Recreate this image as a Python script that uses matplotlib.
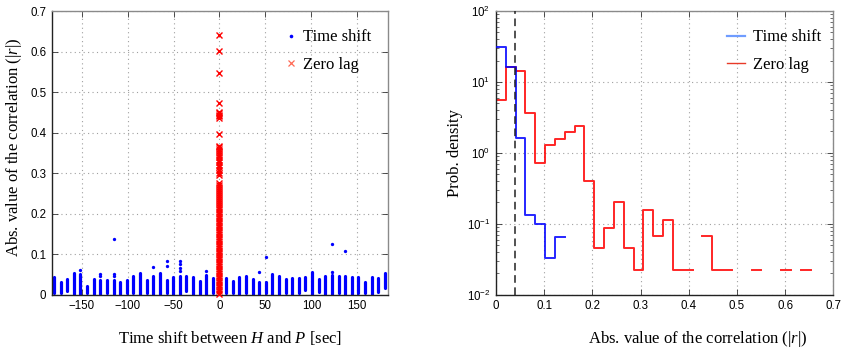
import numpy as np
import matplotlib
matplotlib.use("Agg")
import matplotlib.pyplot as plt
from matplotlib.lines import Line2D
from matplotlib.ticker import LogLocator, NullFormatter

plt.rcParams['mathtext.fontset'] = 'custom'
plt.rcParams['mathtext.rm'] = 'Liberation Serif'
plt.rcParams['mathtext.it'] = 'Liberation Serif:italic'
plt.rcParams['mathtext.bf'] = 'Liberation Serif:bold'
plt.rcParams['font.family'] = ['Liberation Sans', 'DejaVu Sans']

# ---------------- data: left panel ----------------
# time shifts (sec) of the shifted columns
shift_lags = [-180, -172.8, -165.6, -158.4, -151.2, -144, -136.8, -129.6, -122.4, -115.2,
              -108, -100.8, -93.6, -86.4, -79.2, -72, -64.8, -57.6, -50.4, -43.2,
              -36, -28.8, -21.6, -14.4, -7.2,
              7.2, 14.4, 21.6, 28.8, 36, 43.2, 50.4, 57.6, 64.8, 72,
              79.2, 86.4, 93.6, 100.8, 108, 115.2, 122.4, 129.6, 136.8, 144,
              151.2, 158.4, 165.6, 172.8, 180]
shift_low = [0.004, 0.005, 0.008, 0.002, 0.002, 0.003, 0.002, 0.002, 0.004, 0.002,
             0.002, 0.003, 0.003, 0.002, 0.004, 0.002, 0.002, 0.003, 0.002, 0.001,
             0.008, 0.002, 0.002, 0.002, 0.003,
             0.003, 0.004, 0.002, 0.003, 0.002, 0.002, 0.003, 0.002, 0.002, 0.004,
             0.002, 0.003, 0.012, 0.002, 0.006, 0.002, 0.002, 0.003, 0.002, 0.002,
             0.004, 0.003, 0.002, 0.006, 0.016]
shift_high = [0.043, 0.032, 0.039, 0.053, 0.050, 0.021, 0.038, 0.036, 0.036, 0.036,
              0.032, 0.036, 0.045, 0.053, 0.036, 0.045, 0.053, 0.036, 0.043, 0.045,
              0.045, 0.043, 0.035, 0.049, 0.040,
              0.040, 0.034, 0.043, 0.046, 0.038, 0.031, 0.031, 0.051, 0.046, 0.038,
              0.040, 0.040, 0.043, 0.055, 0.038, 0.046, 0.049, 0.047, 0.047, 0.043,
              0.043, 0.031, 0.043, 0.040, 0.053]
# isolated time-shift points above the columns
extra_lags = [-151.2, -129.6, -129.6, -115.2, -115.2, -115.2, -72, -57.6, -57.6,
              -43.2, -43.2, -43.2, -43.2, -14.4, 43.2, 50.4, 122.4, 122.4, 136.8]
extra_vals = [0.060, 0.045, 0.051, 0.045, 0.050, 0.138, 0.068, 0.070, 0.083,
              0.059, 0.065, 0.075, 0.084, 0.059, 0.055, 0.092, 0.057, 0.124, 0.107]
# zero-lag correlations
zero_vals = [0.002, 0.008, 0.013, 0.019, 0.025, 0.031, 0.036, 0.042, 0.047, 0.053,
             0.058, 0.064, 0.070, 0.075, 0.081, 0.087, 0.092, 0.098, 0.104, 0.109,
             0.115, 0.121, 0.126, 0.132, 0.138, 0.143, 0.149, 0.155, 0.160, 0.166,
             0.172, 0.177, 0.183, 0.189, 0.194, 0.200, 0.205, 0.211, 0.216, 0.221,
             0.226, 0.231, 0.236, 0.241, 0.246, 0.251, 0.256, 0.261, 0.266, 0.271,
             0.275, 0.296, 0.300, 0.307, 0.315, 0.321, 0.327, 0.333, 0.340, 0.345,
             0.350, 0.355, 0.360, 0.364, 0.368, 0.396, 0.436, 0.440, 0.444, 0.448,
             0.452, 0.472, 0.548, 0.602, 0.642]

left_xticks = [-150, -100, -50, 0, 50, 100, 150]
left_yticks = [0, 0.1, 0.2, 0.3, 0.4, 0.5, 0.6, 0.7]

# ---------------- data: right panel ----------------
n_bins = 32
hist_max = 0.6528
red_density = [5.6, 16.2, 14.4, 3.6, 0.73, 1.28, 1.55, 1.95, 2.39, 0.40,
               0.045, 0.088, 0.20, 0.045, 0.0223, 0.156, 0.067, 0.112, 0.0223, 0.0223,
               np.nan, 0.067, 0.0223, 0.0223, np.nan, np.nan, 0.0223, np.nan, np.nan, 0.0223,
               np.nan, 0.0223]
blue_density = [31.0, 16.4, 1.6, 0.131, 0.098, 0.0325, 0.0658]
threshold = 0.040
right_xticks = [0, 0.1, 0.2, 0.3, 0.4, 0.5, 0.6, 0.7]

# ---------------- figure ----------------
W, H = 858, 360
fig = plt.figure(figsize=(W / 100, H / 100), dpi=100)

def px_axes(x0, y0, x1, y1):
    return fig.add_axes([x0 / W, 1 - y1 / H, (x1 - x0) / W, (y1 - y0) / H])

ax1 = px_axes(52, 11, 388.3, 294.7)
ax2 = px_axes(496, 11, 833.3, 294.7)

BLUE = '#0000ff'
RED = '#ff0000'
GRID = dict(color='#a0a0a0', linestyle=(0, (1, 3)), linewidth=0.8)
serif = ['Liberation Serif', 'DejaVu Serif']

for ax in (ax1, ax2):
    ax.tick_params(direction='in', top=True, right=True, labelsize=8.3, length=4,
                   width=0.6, color='#333333', pad=4)
    ax.tick_params(which='minor', direction='in', top=True, right=True, length=2.2,
                   width=0.5, color='#333333')
    ax.spines['left'].set_color('#222222')
    ax.spines['bottom'].set_color('#222222')
    ax.spines['top'].set_color('#8a8a8a')
    ax.spines['right'].set_color('#8a8a8a')
    for s in ax.spines.values():
        s.set_linewidth(1.0)
    ax.set_axisbelow(True)

# left panel
ax1.vlines(shift_lags, shift_low, shift_high, colors=BLUE, linewidth=2.3,
           capstyle='round', zorder=2)
ax1.plot(extra_lags, extra_vals, linestyle='none', marker='o', ms=2.4, mew=0,
         color=BLUE, zorder=2)
ax1.plot(np.zeros(len(zero_vals)), zero_vals, linestyle='none', marker='x', ms=5,
         mew=1.0, color=RED, zorder=3, clip_on=False)
ax1.set_xlim(-182.2, 183.7)
ax1.set_ylim(0, 0.7)
ax1.set_xticks(left_xticks)
ax1.set_yticks(left_yticks)
ax1.set_yticklabels(['0' if v == 0 else f'{v:.1f}' for v in left_yticks])
ax1.set_xticklabels([f'\u2212{abs(v)}' if v < 0 else f'{v}' for v in left_xticks])
ax1.grid(True, **GRID)
ax1.set_xlabel('Time shift between $H$ and $P$ [sec]', family=serif, fontsize=12)
ax1.set_ylabel('Abs. value of the correlation ($|r|$)', family=serif, fontsize=12)
ax1.xaxis.set_label_coords(0.53, -0.121)
ax1.yaxis.set_label_coords(-0.083, 0.52)

h1 = [Line2D([], [], linestyle='none', marker='o', ms=2.6, mew=0, color=BLUE),
      Line2D([], [], linestyle='none', marker='x', ms=5, mew=0.9, color='#ff6a55')]
ax1.legend(h1, ['Time shift', 'Zero lag'], loc='upper left',
           bbox_to_anchor=(0.685, 0.935), frameon=False, borderpad=0, borderaxespad=0,
           handlelength=1.0, handletextpad=0.25, labelspacing=0.68,
           prop={'family': serif, 'size': 12})

# right panel
edges = np.linspace(0, hist_max, n_bins + 1)
rv = np.array(red_density, dtype=float)
bv = np.array(blue_density, dtype=float)
ax2.plot(edges, np.append(rv, rv[-1]), drawstyle='steps-post', color=RED, lw=1.4,
         alpha=0.85, zorder=2)
be = edges[:len(bv) + 1]
ax2.plot(be, np.append(bv, bv[-1]), drawstyle='steps-post', color=BLUE, lw=1.4,
         alpha=0.85, zorder=3)
ax2.axvline(threshold, color='#222222', lw=1.1, linestyle=(0, (5, 3)), zorder=4)
ax2.set_yscale('log')
ax2.set_xlim(0, 0.7)
ax2.set_ylim(1e-2, 1e2)
ax2.set_xticks(right_xticks)
ax2.set_xticklabels(['0' if v == 0 else f'{v:.1f}' for v in right_xticks])
ax2.yaxis.set_major_locator(LogLocator(base=10, numticks=10))
ax2.yaxis.set_minor_locator(LogLocator(base=10, subs=np.arange(2, 10), numticks=100))
ax2.yaxis.set_minor_formatter(NullFormatter())
ax2.grid(True, which='major', **GRID)
ax2.set_xlabel('Abs. value of the correlation ($|r|$)', family=serif, fontsize=12)
ax2.set_ylabel('Prob. density', family=serif, fontsize=12)
ax2.xaxis.set_label_coords(0.598, -0.121)
ax2.yaxis.set_label_coords(-0.098, 0.5)

h2 = [Line2D([], [], color='#6f9cff', lw=1.6),
      Line2D([], [], color='#e83a28', lw=1.0)]
ax2.legend(h2, ['Time shift', 'Zero lag'], loc='upper left',
           bbox_to_anchor=(0.685, 0.935), frameon=False, borderpad=0, borderaxespad=0,
           handlelength=1.1, handletextpad=0.45, labelspacing=0.68,
           prop={'family': serif, 'size': 12})

fig.savefig('out.png', dpi=100)
